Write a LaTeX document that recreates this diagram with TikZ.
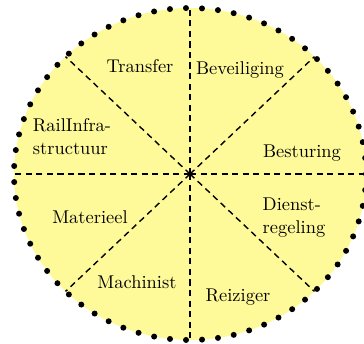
\documentclass[tikz,border=0pt]{standalone}
\usetikzlibrary{calc}
\begin{document}
\begin{tikzpicture}[
        x=0.02cm,y=-0.02cm,
        mydots/.style={draw=black, line width=3.4pt, line cap=round,
            dash pattern=on 0pt off 9.13pt},
        mydash/.style={draw=black, line width=0.8pt,
            dash pattern=on 3.5pt off 2.5pt},
        sector/.style={font=\fontsize{10.5}{13}\selectfont, align=left, inner sep=0pt}
    ]
  \useasboundingbox (0,0) rectangle (364,343);
  \coordinate (c) at (190,174);
  \fill[yellow!40] (c) ellipse [x radius=176, y radius=166];
  % dividing lines
  \foreach \a in {0,45,...,315}{
    \coordinate (e\a) at ($(c)+(\a:176 and 166)$);
    \draw[mydash] (c) -- (e\a);
  }
  \draw[mydots] (c) ellipse [x radius=176, y radius=166];
  % labels
  \node[sector] (transfer) at (140,66) {Transfer};
  \node[sector] (beveiliging) at (240,70) {Beveiliging};
  \node[sector] (railinfra) at (72,137) {RailInfra-\\structuur};
  \node[sector] (besturing) at (302,153) {Besturing};
  \node[sector] (dienst) at (294,218) {Dienst-\\regeling};
  \node[sector] (materieel) at (90,217) {Materieel};
  \node[sector] (machinist) at (137,282) {Machinist};
  \node[sector] (reiziger) at (238,297) {Reiziger};
\end{tikzpicture}
\end{document}
